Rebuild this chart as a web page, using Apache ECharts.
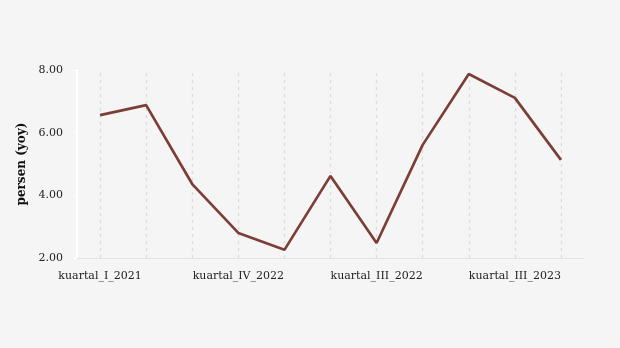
<!DOCTYPE html>
<html><head><meta charset="utf-8">
<script src="https://cdn.jsdelivr.net/npm/echarts@6/dist/echarts.min.js"></script>
<style>html,body{margin:0;padding:0;background:#f5f5f5}#c{width:620px;height:348px}</style>
</head><body><div id="c"></div>
<script>
const categories = ["kuartal_I_2021","kuartal_II_2021","kuartal_III_2021","kuartal_IV_2022","kuartal_IV_2021","kuartal_I_2022","kuartal_III_2022","kuartal_II_2022","kuartal_I_2023","kuartal_III_2023","kuartal_II_2023"];
const values = [6.56, 6.88, 4.36, 2.80, 2.26, 4.62, 2.48, 5.61, 7.87, 7.11, 5.13];
const yTicks = [2, 4, 6, 8];
const yName = "persen (yoy)";

const chart = echarts.init(document.getElementById('c'), null, {renderer:'canvas'});
const font = "'DejaVu Serif', serif";
chart.setOption({
  backgroundColor: '#f5f5f5',
  animation: false,
  grid: {left: 77, right: 36, top: 70, bottom: 90},
  xAxis: {
    type: 'category', data: categories, boundaryGap: true,
    axisLine: {lineStyle: {color: '#e2e2e2', width: 1}},
    axisTick: {show: false},
    axisLabel: {interval: 2, color: '#222', fontFamily: font, fontSize: 11, margin: 13},
    splitLine: {show: false}
  },
  yAxis: {
    type: 'value', min: yTicks[0], max: yTicks[yTicks.length-1], interval: 2,
    name: yName, nameLocation: 'middle', nameGap: 47, nameRotate: 90,
    nameTextStyle: {fontFamily: font, fontWeight: 'bold', fontSize: 12, color: '#111'},
    axisLine: {show: true, lineStyle: {color: '#ffffff', width: 2}},
    axisTick: {show: true, length: 4, lineStyle: {color: '#ffffff', width: 1}},
    axisLabel: {formatter: v => v.toFixed(2), color: '#222', fontFamily: font, fontSize: 11, margin: 14},
    splitLine: {show: false}
  },
  series: [{
    type: 'line', data: [], z: 1,
    markLine: {
      silent: true, symbol: 'none', label: {show: false}, z: 1,
      lineStyle: {color: '#dcdcdc', type: [3, 4], width: 1.3},
      data: categories.map(c => ({xAxis: c}))
    }
  }, {
    type: 'line', data: values, symbol: 'none', z: 5,
    lineStyle: {color: '#7b3f38', width: 2.7}
  }]
});
</script></body></html>
